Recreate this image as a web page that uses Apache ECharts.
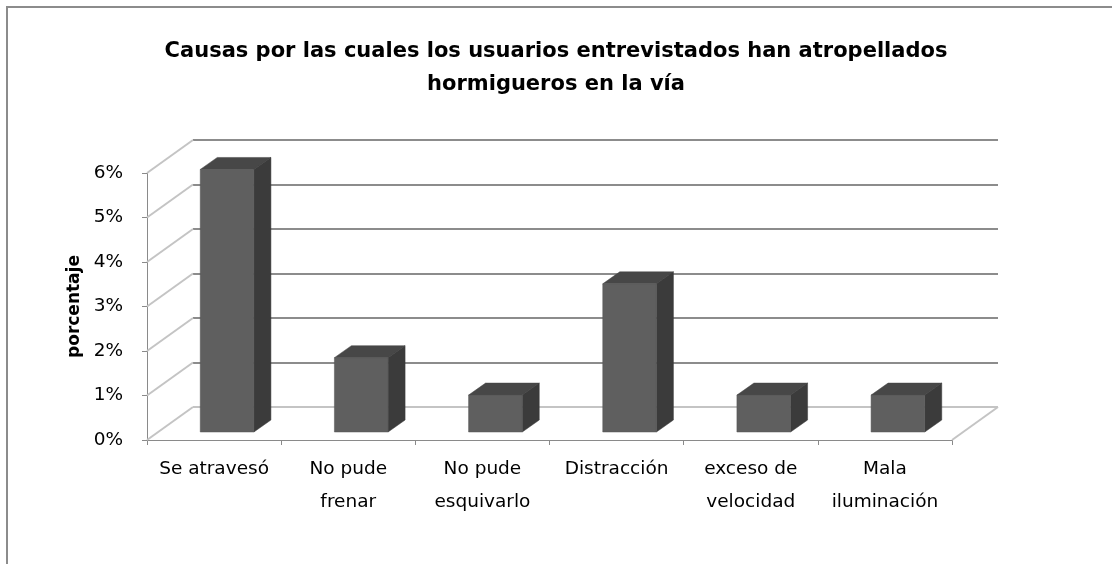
<!DOCTYPE html>
<html>
<head>
<meta charset="utf-8">
<script src="https://cdn.jsdelivr.net/npm/echarts@6/dist/echarts.min.js"></script>
<style>html,body{margin:0;padding:0;background:#fff}#c{width:1112px;height:564px}</style>
</head>
<body>
<div id="c"></div>
<script>
const titleText = 'Causas por las cuales los usuarios entrevistados han atropellados\nhormigueros en la vía';
const categories = ['Se atravesó', 'No pude\nfrenar', 'No pude\nesquivarlo', 'Distracción', 'exceso de\nvelocidad', 'Mala\niluminación'];
const values = [5.9, 1.67, 0.83, 3.33, 0.83, 0.83];
const yTicks = [0, 1, 2, 3, 4, 5, 6];
const yAxisName = 'porcentaje';

const DEPTH_X = 46, DEPTH_Y = -33;      // wall depth offset
const BAR_OFF_X = 13, BAR_OFF_Y = -8;    // bar front face offset
const BAR_D_X = 17, BAR_D_Y = -12;       // bar depth
const FONT = 'DejaVu Sans';

const chart = echarts.init(document.getElementById('c'), null, {renderer: 'canvas'});
chart.setOption({
  animation: false,
  backgroundColor: '#ffffff',
  title: {
    text: titleText,
    left: 'center',
    top: 30,
    textStyle: {fontFamily: FONT, fontWeight: 'bold', fontSize: 21, lineHeight: 33, color: '#000'}
  },
  graphic: [{
    type: 'rect', shape: {x: 7, y: 7, width: 1300, height: 800},
    style: {fill: 'none', stroke: '#8c8c8c', lineWidth: 2}, z: -10
  }],
  grid: [
    {left: 147, right: 160, top: 173, bottom: 124},
    {left: 147 + DEPTH_X, right: 160 - DEPTH_X, top: 173 + DEPTH_Y, bottom: 124 - DEPTH_Y}
  ],
  xAxis: [
    {
      type: 'category', gridIndex: 0, data: categories, boundaryGap: true,
      axisLine: {lineStyle: {color: '#8a8a8a', width: 1}},
      axisTick: {show: true, length: 5, lineStyle: {color: '#8a8a8a'}},
      axisLabel: {fontFamily: FONT, fontSize: 18.5, color: '#000', lineHeight: 33, margin: 13, interval: 0}
    },
    {type: 'category', gridIndex: 1, data: categories, show: false}
  ],
  yAxis: [
    {
      type: 'value', gridIndex: 0, min: 0, max: 6, interval: 1,
      name: yAxisName, nameLocation: 'middle', nameRotate: 90, nameGap: 64,
      nameTextStyle: {fontFamily: FONT, fontWeight: 'bold', fontSize: 17, color: '#000'},
      axisLine: {show: true, lineStyle: {color: '#8a8a8a'}},
      axisTick: {show: true, length: 5, lineStyle: {color: '#8a8a8a'}},
      axisLabel: {fontFamily: FONT, fontSize: 18.5, color: '#000', margin: 24, formatter: '{value}%'},
      splitLine: {show: false}
    },
    {
      type: 'value', gridIndex: 1, min: 0, max: 6, interval: 1,
      axisLine: {show: false}, axisTick: {show: false}, axisLabel: {show: false},
      splitLine: {show: true, lineStyle: {color: ['#c4c4c4', '#8c8c8c', '#8c8c8c', '#8c8c8c', '#8c8c8c', '#8c8c8c', '#8c8c8c'], width: 2}}
    }
  ],
  series: [
    {
      // side wall diagonals + floor edge
      type: 'custom', xAxisIndex: 0, yAxisIndex: 0, z: 1, silent: true,
      data: yTicks.map(v => [0, v]),
      renderItem: function (params, api) {
        const cs = params.coordSys;
        const v = api.value(1);
        const y = api.coord([0, v])[1];
        const children = [{
          type: 'line',
          shape: {x1: cs.x, y1: y, x2: cs.x + DEPTH_X, y2: y + DEPTH_Y},
          style: {stroke: '#c4c4c4', lineWidth: 2}
        }];
        if (v === 0) {
          children.push({
            type: 'line',
            shape: {x1: cs.x + cs.width, y1: y, x2: cs.x + cs.width + DEPTH_X, y2: y + DEPTH_Y},
            style: {stroke: '#c4c4c4', lineWidth: 2}
          });
        }
        return {type: 'group', children: children};
      }
    },
    {
      type: 'custom', xAxisIndex: 0, yAxisIndex: 0, z: 5,
      data: values.map((v, i) => [i, v]),
      renderItem: function (params, api) {
        const i = api.value(0), v = api.value(1);
        const base = api.coord([i, 0]);
        const top = api.coord([i, v]);
        const band = api.size([1, 0])[0];
        const w = band * 0.4;
        const x1 = base[0] - w / 2 + BAR_OFF_X, x2 = x1 + w;
        const yb = base[1] + BAR_OFF_Y, yt = top[1] + BAR_OFF_Y;
        return {
          type: 'group',
          children: [
            {type: 'polygon', shape: {points: [[x1, yt], [x1 + BAR_D_X, yt + BAR_D_Y], [x2 + BAR_D_X, yt + BAR_D_Y], [x2, yt]]},
              style: {fill: '#474747', stroke: '#474747', lineWidth: 0.5}},
            {type: 'polygon', shape: {points: [[x2, yt], [x2 + BAR_D_X, yt + BAR_D_Y], [x2 + BAR_D_X, yb + BAR_D_Y], [x2, yb]]},
              style: {fill: '#3b3b3b', stroke: '#3b3b3b', lineWidth: 0.5}},
            {type: 'rect', shape: {x: x1, y: yt, width: w, height: yb - yt},
              style: {fill: '#5f5f5f', stroke: '#555555', lineWidth: 0.5}}
          ]
        };
      }
    }
  ]
});
</script>
</body>
</html>
